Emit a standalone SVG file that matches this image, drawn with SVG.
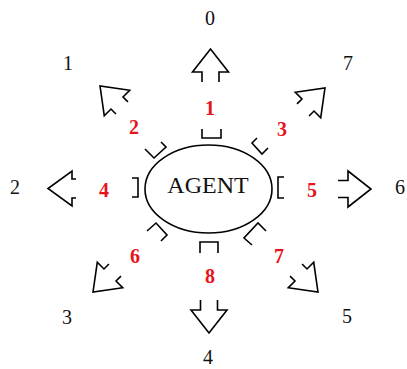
<svg xmlns="http://www.w3.org/2000/svg" xmlns:xlink="http://www.w3.org/1999/xlink" width="407" height="369" viewBox="0 0 407 369">
  <style>
    .ln { fill: none; stroke: #000; stroke-width: 1.6; stroke-linejoin: miter; }
    .dir { font-family: "Liberation Serif", "Times New Roman", serif; font-size: 20px; fill: #111; text-anchor: middle; }
    .num { font-family: "Liberation Serif", "Times New Roman", serif; font-size: 20px; font-weight: bold; fill: #e8141c; text-anchor: middle; }
    .agent { font-family: "Liberation Serif", "Times New Roman", serif; font-size: 24px; fill: #111; text-anchor: middle; }
  </style>
  <defs>
    <path id="arr" class="ln" d="M-8.5,10 V0 H-18 L0,-23 L18,0 H8.5 V10"/>
    <path id="arrS" class="ln" d="M-9.5,4 V0 H-17.5 L0,-24 L17.5,0 H9.5 V4"/>
    <path id="arrD" class="ln" d="M-8.5,7 V0 H-18 L0,-24 L18,0 H8.5 V7"/>
  </defs>
  <rect width="407" height="369" fill="#fff"/>

  <g id="agent">
    <ellipse cx="208.5" cy="189" rx="63.5" ry="44" class="ln"/>
    <text x="208" y="193" class="agent">AGENT</text>
  </g>

  <g id="dir0">
    <use xlink:href="#arr" transform="translate(210.5,72)"/>
    <path class="ln" d="M202,129 V138 H221 V129"/>
    <text x="210" y="115" class="num">1</text>
    <text x="210" y="25" class="dir">0</text>
  </g>

  <g id="dir1">
    <use xlink:href="#arrD" transform="translate(117,103) rotate(-45)"/>
    <polyline class="ln" points="145,149 154,158 166,147 161,142"/>
    <text x="134" y="134" class="num">2</text>
    <text x="68" y="70" class="dir">1</text>
  </g>

  <g id="dir7">
    <use xlink:href="#arrD" transform="translate(308,105) rotate(45)"/>
    <polyline class="ln" points="257,138 252,143 262,154 268,148"/>
    <text x="282" y="136" class="num">3</text>
    <text x="348" y="70" class="dir">7</text>
  </g>

  <g id="dir2">
    <use xlink:href="#arrS" transform="translate(72,188.5) rotate(-90)"/>
    <path class="ln" d="M132,178 H138 V197 H132"/>
    <text x="104" y="197" class="num">4</text>
    <text x="15" y="194" class="dir">2</text>
  </g>

  <g id="dir6">
    <use xlink:href="#arr" transform="translate(348,189) rotate(90)"/>
    <path class="ln" d="M284,177 H278 V198 H284"/>
    <text x="312" y="197" class="num">5</text>
    <text x="400" y="194" class="dir">6</text>
  </g>

  <g id="dir3">
    <use xlink:href="#arrD" transform="translate(110,275) rotate(-135)"/>
    <polyline class="ln" points="147,231 156,223 167,235 161,241"/>
    <text x="135" y="263" class="num">6</text>
    <text x="67" y="324" class="dir">3</text>
  </g>

  <g id="dir5">
    <use xlink:href="#arrD" transform="translate(301,275) rotate(135)"/>
    <polyline class="ln" points="252,245 244,238 258,223 266,231"/>
    <text x="279" y="263" class="num">7</text>
    <text x="347" y="323" class="dir">5</text>
  </g>

  <g id="dir4">
    <use xlink:href="#arr" transform="translate(209,310) rotate(180)"/>
    <path class="ln" d="M200,253 V242 H218 V253"/>
    <text x="210" y="283" class="num">8</text>
    <text x="208" y="364" class="dir">4</text>
  </g>

  <g id="connectors"/>
</svg>
